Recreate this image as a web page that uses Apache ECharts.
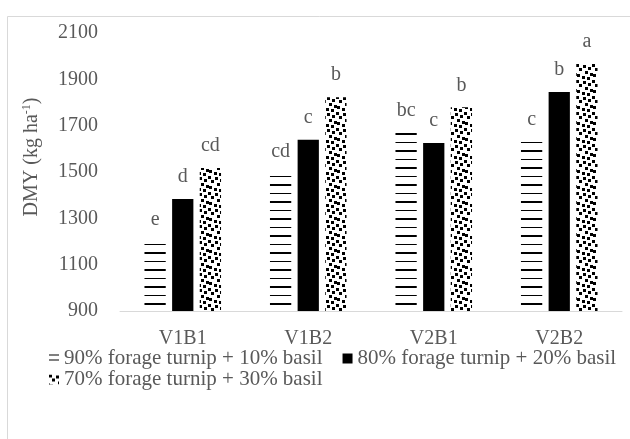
<!DOCTYPE html>
<html>
<head>
<meta charset="utf-8">
<script src="https://cdn.jsdelivr.net/npm/echarts@6/dist/echarts.min.js"></script>
<style>
html,body{margin:0;padding:0;background:#fff;}
#chart{width:630px;height:439px;}
</style>
</head>
<body>
<div id="chart"></div>
<script>
const categories = ['V1B1', 'V1B2', 'V2B1', 'V2B2'];
const seriesNames = ['90% forage turnip + 10% basil', '80% forage turnip + 20% basil', '70% forage turnip + 30% basil'];
const values90 = [1200, 1492, 1668, 1632];
const values80 = [1383, 1639, 1625, 1845];
const values70 = [1517, 1823, 1779, 1966];
const letters90 = ['e', 'cd', 'bc', 'c'];
const letters80 = ['d', 'c', 'c', 'b'];
const letters70 = ['cd', 'b', 'b', 'a'];
const yMin = 900, yMax = 2100, yStep = 200;

const FONT = 'Liberation Serif';
const GRAY = '#595959';

function stripeTile(h, lines) {
  const c = document.createElement('canvas');
  c.width = 8; c.height = h;
  const ctx = c.getContext('2d');
  ctx.fillStyle = '#000';
  lines.forEach(([y, t]) => ctx.fillRect(0, y, 8, t));
  return c;
}
function confettiTile() {
  const c = document.createElement('canvas');
  c.width = 16; c.height = 16;
  const ctx = c.getContext('2d');
  ctx.fillStyle = '#000';
  const sq = [[0,0],[7,1],[12,3],[3,4],[9,7],[14,9],[1,10],[6,12],[11,13]];
  sq.forEach(([x, y]) => {
    for (let dx = -16; dx <= 16; dx += 16)
      for (let dy = -16; dy <= 16; dy += 16)
        ctx.fillRect(x + dx, y + dy, 3, 3);
  });
  return c;
}
const stripePattern = { image: stripeTile(17, [[6, 1], [14, 2]]), repeat: 'repeat' };
const stripeIconPattern = { image: stripeTile(5, [[1, 1]]), repeat: 'repeat' };
const confettiPattern = { image: confettiTile(), repeat: 'repeat' };

function labelFor(letters) {
  return {
    show: true, position: 'top', distance: 12,
    fontFamily: FONT, fontSize: 20, color: GRAY,
    formatter: p => letters[p.dataIndex]
  };
}

const legendText = { fontFamily: FONT, fontSize: 21, color: GRAY, lineHeight: 21 };

const chart = echarts.init(document.getElementById('chart'), null, { renderer: 'canvas' });
chart.setOption({
  animation: false,
  backgroundColor: '#fff',
  textStyle: { fontFamily: FONT },
  grid: { left: 120, right: 8, top: 33, bottom: 128, containLabel: false },
  xAxis: {
    type: 'category', data: categories,
    axisTick: { show: false },
    axisLine: { lineStyle: { color: '#d9d9d9', width: 1 } },
    axisLabel: { fontFamily: FONT, fontSize: 20, color: GRAY, margin: 18 }
  },
  yAxis: {
    type: 'value', min: yMin, max: yMax, interval: yStep,
    splitLine: { show: false },
    axisLine: { show: false }, axisTick: { show: false },
    axisLabel: { fontFamily: FONT, fontSize: 20, color: GRAY, margin: 22, formatter: v => String(v) }
  },
  legend: [
    {
      data: [
        { name: seriesNames[0], itemStyle: { color: stripeIconPattern } },
        { name: seriesNames[1] }
      ],
      left: 49, top: 348, padding: 0, itemWidth: 10, itemHeight: 10, itemGap: 20,
      icon: 'rect', selectedMode: false, textStyle: legendText
    },
    {
      data: [seriesNames[2]],
      left: 49, top: 369, padding: 0, itemWidth: 10, itemHeight: 10,
      icon: 'rect', selectedMode: false, textStyle: legendText
    }
  ],
  series: [
    { name: seriesNames[0], type: 'bar', data: values90, barGap: '30%', barCategoryGap: '39%',
      itemStyle: { color: stripePattern }, label: labelFor(letters90), emphasis: { disabled: true } },
    { name: seriesNames[1], type: 'bar', data: values80, barGap: '30%', barCategoryGap: '39%',
      itemStyle: { color: '#000' }, label: labelFor(letters80), emphasis: { disabled: true } },
    { name: seriesNames[2], type: 'bar', data: values70, barGap: '30%', barCategoryGap: '39%',
      itemStyle: { color: confettiPattern }, label: labelFor(letters70), emphasis: { disabled: true } }
  ],
  graphic: [
    { type: 'rect', silent: true, z: -1,
      shape: { x: 7.5, y: 16.5, width: 700, height: 600 },
      style: { fill: 'none', stroke: '#d9d9d9', lineWidth: 1 } },
    { type: 'text', x: 32, y: 157, rotation: Math.PI / 2,
      style: {
        text: '{a|DMY (kg ha}{s|-1}{a|)}',
        align: 'center', verticalAlign: 'middle',
        rich: {
          a: { fontFamily: FONT, fontSize: 20, fill: GRAY, lineHeight: 22 },
          s: { fontFamily: FONT, fontSize: 12, fill: GRAY, verticalAlign: 'top', lineHeight: 22 }
        }
      } }
  ]
});
</script>
</body>
</html>
